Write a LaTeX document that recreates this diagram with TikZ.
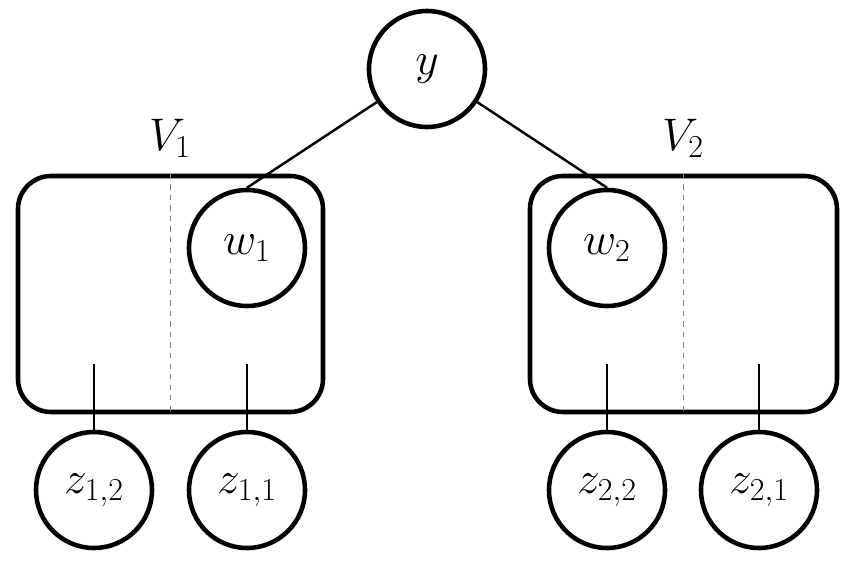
\documentclass[tikz,border=0pt]{standalone}
\usepackage{fix-cm}
\usetikzlibrary{positioning}
\tikzset{
  var/.style={draw, circle, line width=2.6pt, minimum size=2.32cm, inner sep=0pt, font=\fontsize{26}{30}\selectfont},
  plate/.style={draw, rectangle, rounded corners=0.66cm, line width=2.6pt, minimum height=4.72cm},
  plabel/.style={font=\fontsize{26}{30}\selectfont},
  edge/.style={line width=1.4pt},
  split/.style={dashed, gray, line width=0.6pt}
}

\begin{document}
\begin{tikzpicture}
\useasboundingbox (0,0) rectangle (17.14,11.22);
%%%%%%%%%%
% Top variable
%%%%%%%%%%
\node[var] (y) at (8.54,9.84) {$y$};

%%%%%%%%%%
% Plates
%%%%%%%%%%
\node[plate, minimum width=6.1cm]  (v1) at (3.41,5.34) {};
\node[plate, minimum width=6.14cm] (v2) at (13.67,5.34) {};
\draw[split] (v1.north) -- (v1.south);
\draw[split] (v2.north) -- (v2.south);
\node[plabel] (v1lab) at (3.40,8.46) {$V_1$};
\node[plabel] (v2lab) at (13.66,8.46) {$V_2$};

% w nodes inside plates
\node[var] (w1) at (4.94,6.26) {$w_1$};
\node[var] (w2) at (12.14,6.26) {$w_2$};
\draw[edge] (y) -- (w1.north);
\draw[edge] (y) -- (w2.north);

%%%%%%%%%%
% z nodes below plates
%%%%%%%%%%
\foreach \name/\x/\lab in {
z12/1.88/{z_{1,2}},
z11/4.94/{z_{1,1}},
z22/12.14/{z_{2,2}},
z21/15.18/{z_{2,1}}
} {
\node[var] (\name) at (\x,1.42) {$\lab$};
\coordinate (s\name) at (\x,3.94);
\draw[edge] (s\name) -- (\name);
}

\end{tikzpicture}
\end{document}
